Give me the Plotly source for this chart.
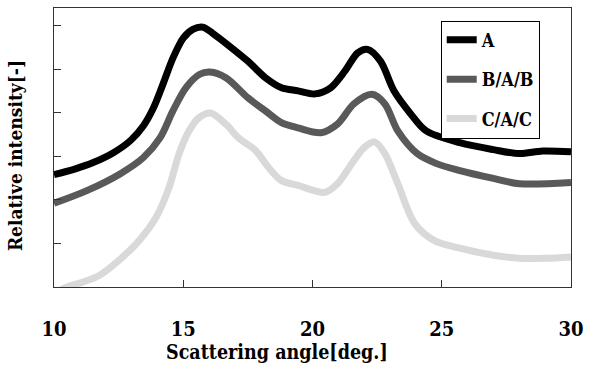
import plotly.graph_objects as go

# Data
x_a = [10.0, 10.77, 11.54, 12.3, 12.96, 13.46, 13.84, 14.22, 14.6, 15.0, 15.37, 15.76, 16.14, 16.8,
       17.5, 18.18, 18.8, 19.44, 20.1, 20.7, 21.25, 21.75, 22.13, 22.63, 23.15, 23.8, 24.4, 25.7,
       27.0, 28.0, 28.9, 30.0]
y_a = [2.58, 2.7, 2.86, 3.08, 3.36, 3.7, 4.1, 4.66, 5.25, 5.71, 5.91, 5.96, 5.82, 5.52,
       5.18, 4.8, 4.57, 4.5, 4.43, 4.57, 4.95, 5.37, 5.45, 5.18, 4.5, 3.97, 3.58, 3.31,
       3.15, 3.06, 3.12, 3.1]

x_b = [10.0, 11.27, 12.57, 13.46, 14.1, 14.6, 15.1, 15.64, 16.03, 16.65, 17.5, 18.18, 18.8, 19.44,
       20.33, 20.97, 21.6, 22.3, 22.8, 23.3, 24.05, 24.8, 25.7, 27.0, 28.0, 30.0]
y_b = [1.92, 2.21, 2.6, 2.97, 3.42, 4.04, 4.57, 4.88, 4.93, 4.8, 4.34, 4.04, 3.77, 3.65,
       3.54, 3.74, 4.2, 4.42, 4.2, 3.58, 3.06, 2.83, 2.67, 2.49, 2.37, 2.4]

x_c = [10.0, 10.5, 11.1, 11.77, 12.53, 13.3, 13.95, 14.45, 14.84, 15.22, 15.6, 16.05, 16.64, 17.14,
       17.8, 18.3, 18.8, 19.44, 20.48, 20.97, 21.6, 22.0, 22.4, 22.8, 23.3, 23.95, 24.7, 25.7,
       27.0, 28.0, 29.0, 30.0]
y_c = [-0.15, 0.0, 0.11, 0.27, 0.62, 1.07, 1.6, 2.28, 3.06, 3.58, 3.88, 3.99, 3.74, 3.42,
       3.13, 2.74, 2.44, 2.33, 2.17, 2.37, 2.9, 3.2, 3.33, 3.06, 2.37, 1.46, 1.07, 0.89,
       0.73, 0.66, 0.66, 0.69]

series_names = ["A", "B/A/B", "C/A/C"]
series_colors = ["#000000", "#595959", "#d9d9d9"]

x_ticks = [10, 15, 20, 25, 30]
y_ticks = [0, 1, 2, 3, 4, 5, 6]

SERIF = "DejaVu Serif Condensed, DejaVu Serif, serif"

fig = go.Figure()
for name, xs, ys, col in zip(series_names, [x_a, x_b, x_c], [y_a, y_b, y_c], series_colors):
    fig.add_trace(go.Scatter(x=xs, y=ys, mode="lines", name=f"<b>{name}</b>", legendgroup=name,
                             line=dict(color=col, width=7, shape="spline", smoothing=0.9)))

fig.update_layout(
    width=591, height=372,
    margin=dict(l=54, r=15, t=7, b=85),
    plot_bgcolor="white", paper_bgcolor="white",
    font=dict(family=SERIF, size=18, color="black"),
    showlegend=True,
    legend=dict(x=0.748, y=0.955, xanchor="left", yanchor="top",
                bgcolor="white", bordercolor="black", borderwidth=1,
                font=dict(family=SERIF, size=18, color="black"),
                tracegroupgap=13, itemwidth=30),
)
fig.update_xaxes(range=[10, 30], tickvals=x_ticks, ticktext=[f"<b>{v}</b>" for v in x_ticks],
                 ticks="inside", ticklen=7, tickcolor="#333", showline=True, linecolor="#333",
                 linewidth=1, mirror=True, showgrid=False, zeroline=False,
                 tickfont=dict(family=SERIF, size=20), ticklabelstandoff=24)
fig.update_yaxes(range=[0, 6.4], tickvals=y_ticks, showticklabels=False,
                 ticks="inside", ticklen=7, tickcolor="#333", showline=True, linecolor="#333",
                 linewidth=1, mirror=True, showgrid=False, zeroline=False)

fig.add_annotation(text="<b>Scattering angle[deg.]</b>", xref="paper", yref="paper",
                   x=0.432, y=-0.235, xanchor="center", yanchor="middle", showarrow=False,
                   font=dict(family=SERIF, size=19.5))
fig.add_annotation(text="<b>Relative intensity[-]</b>", xref="paper", yref="paper",
                   x=-0.075, y=0.47, xanchor="center", yanchor="middle", showarrow=False,
                   textangle=-90, font=dict(family=SERIF, size=19))

fig.write_html("out.html")
